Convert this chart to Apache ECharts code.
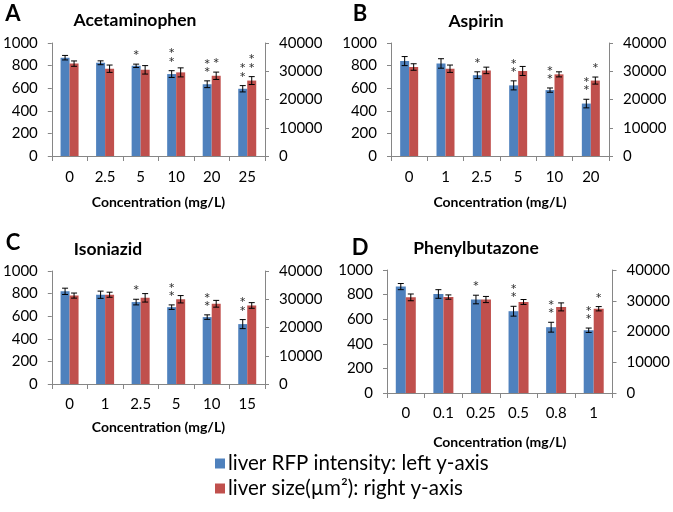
<!DOCTYPE html>
<html>
<head>
<meta charset="utf-8">
<script src="https://cdn.jsdelivr.net/npm/echarts@6/dist/echarts.min.js"></script>
<style>
  html, body { margin: 0; padding: 0; background: #fff; }
  #chart { width: 673px; height: 512px; }
</style>
</head>
<body>
<div id="chart"></div>
<script>
// Panel A - Acetaminophen
const catsA = ['0', '2.5', '5', '10', '20', '25'];
const rfpA = [870, 825, 798, 725, 635, 595];
const rfpErrA = [20, 17, 15, 30, 30, 28];
const sizeA = [32700, 30900, 30500, 29600, 28400, 26700];
const sizeErrA = [950, 1300, 1500, 1600, 1300, 1400];
const rfpStarsA = [0, 0, 1, 2, 2, 2];
const sizeStarsA = [0, 0, 0, 0, 1, 2];

// Panel B - Aspirin
const catsB = ['0', '1', '2.5', '5', '10', '20'];
const rfpB = [840, 819, 715, 625, 583, 464];
const rfpErrB = [40, 42, 30, 40, 19, 38];
const sizeB = [31500, 30900, 30300, 30100, 28900, 26700];
const sizeErrB = [1150, 1300, 1150, 1600, 900, 1250];
const rfpStarsB = [0, 0, 1, 2, 2, 2];
const sizeStarsB = [0, 0, 0, 0, 0, 1];

// Panel C - Isoniazid
const catsC = ['0', '1', '2.5', '5', '10', '15'];
const rfpC = [820, 790, 725, 680, 592, 530];
const rfpErrC = [28, 32, 25, 20, 20, 40];
const sizeC = [31300, 31600, 30500, 30000, 28400, 27800];
const sizeErrC = [900, 900, 1500, 1300, 1200, 1000];
const rfpStarsC = [0, 0, 1, 2, 2, 2];
const sizeStarsC = [0, 0, 0, 0, 0, 0];

// Panel D - Phenylbutazone
const catsD = ['0', '0.1', '0.25', '0.5', '0.8', '1'];
const rfpD = [865, 805, 760, 665, 535, 510];
const rfpErrD = [25, 35, 35, 40, 40, 18];
const sizeD = [31100, 31200, 30400, 29600, 28000, 27400];
const sizeErrD = [1100, 700, 1000, 800, 1300, 700];
const rfpStarsD = [0, 0, 1, 2, 2, 2];
const sizeStarsD = [0, 0, 0, 0, 0, 1];

const rfpTicks = { min: 0, max: 1000, interval: 200 };
const sizeTicks = { min: 0, max: 40000, interval: 10000 };

const RFP_NAME = 'liver RFP intensity: left y-axis';
const SIZE_NAME = 'liver size(\u00b5m\u00b2): right y-axis';
const BLUE = '#4F81BD';
const RED = '#C0504D';
const AXIS = '#868686';
const FONT = 'Lato, "Open Sans", sans-serif';

const panels = [
  { letter: 'A', title: 'Acetaminophen', cats: catsA, rfp: rfpA, rfpErr: rfpErrA, size: sizeA, sizeErr: sizeErrA, rs: rfpStarsA, ss: sizeStarsA,
    grid: { left: 48, top: 43, width: 217, height: 113 }, bw: 9, labelGap: 14, nameGap: 39,
    letterPos: [13, 14], titlePos: [135, 20] },
  { letter: 'B', title: 'Aspirin', cats: catsB, rfp: rfpB, rfpErr: rfpErrB, size: sizeB, sizeErr: sizeErrB, rs: rfpStarsB, ss: sizeStarsB,
    grid: { left: 391, top: 43, width: 218, height: 113 }, bw: 9, labelGap: 14, nameGap: 39,
    letterPos: [360, 14], titlePos: [476, 21] },
  { letter: 'C', title: 'Isoniazid', cats: catsC, rfp: rfpC, rfpErr: rfpErrC, size: sizeC, sizeErr: sizeErrC, rs: rfpStarsC, ss: sizeStarsC,
    grid: { left: 48, top: 271, width: 217, height: 113 }, bw: 9, labelGap: 13, nameGap: 36,
    letterPos: [13, 243], titlePos: [108, 249] },
  { letter: 'D', title: 'Phenylbutazone', cats: catsD, rfp: rfpD, rfpErr: rfpErrD, size: sizeD, sizeErr: sizeErrD, rs: rfpStarsD, ss: sizeStarsD,
    grid: { left: 387, top: 270, width: 230, height: 123 }, bw: 10, labelGap: 13, nameGap: 42,
    letterPos: [360, 248], titlePos: [476, 248] }
];

// error bar + significance asterisks, drawn at the bar's x position
function errorItem(offset) {
  return function (params, api) {
    const i = api.value(0), v = api.value(1), e = api.value(2), n = api.value(3);
    const x = api.coord([i, v])[0] + offset;
    const yHi = api.coord([i, v + e])[1];
    const yLo = api.coord([i, v - e])[1];
    const st = { stroke: '#000', lineWidth: 1 };
    const kids = [
      { type: 'line', shape: { x1: x, y1: yHi, x2: x, y2: yLo }, style: st },
      { type: 'line', shape: { x1: x - 3, y1: yHi, x2: x + 3, y2: yHi }, style: st },
      { type: 'line', shape: { x1: x - 3, y1: yLo, x2: x + 3, y2: yLo }, style: st }
    ];
    for (let k = 0; k < n; k++) {
      kids.push({
        type: 'text',
        style: { text: '*', x: x, y: yHi - 8 - k * 8.5, align: 'center', verticalAlign: 'middle',
          font: '16px ' + FONT, fill: '#333' }
      });
    }
    return { type: 'group', children: kids };
  };
}

const plain = function (v) { return String(v); };
const grid = [], xAxis = [], yAxis = [], series = [], graphic = [];

panels.forEach(function (p, g) {
  grid.push(Object.assign({ containLabel: false }, p.grid));
  xAxis.push({
    type: 'category', gridIndex: g, data: p.cats,
    name: 'Concentration (mg/L)', nameLocation: 'middle', nameGap: p.nameGap,
    nameTextStyle: { fontFamily: FONT, fontWeight: 'bold', fontSize: 14, color: '#000' },
    axisLine: { lineStyle: { color: AXIS } },
    axisTick: { show: true, length: 5, lineStyle: { color: AXIS } },
    axisLabel: { fontFamily: FONT, fontSize: 15, color: '#000', margin: p.labelGap, interval: 0 }
  });
  yAxis.push(Object.assign({
    type: 'value', gridIndex: g, position: 'left',
    axisLine: { show: true, lineStyle: { color: AXIS } },
    axisTick: { show: true, length: 4, lineStyle: { color: AXIS } },
    axisLabel: { fontFamily: FONT, fontSize: 15, color: '#000', margin: 14, formatter: plain },
    splitLine: { show: false }
  }, rfpTicks));
  yAxis.push(Object.assign({
    type: 'value', gridIndex: g, position: 'right',
    axisLine: { show: true, lineStyle: { color: AXIS } },
    axisTick: { show: true, length: 4, lineStyle: { color: AXIS } },
    axisLabel: { fontFamily: FONT, fontSize: 15, color: '#000', margin: 14, formatter: plain },
    splitLine: { show: false }
  }, sizeTicks));

  series.push({
    name: RFP_NAME, type: 'bar', xAxisIndex: g, yAxisIndex: 2 * g,
    data: p.rfp, barWidth: p.bw, barGap: '0%', itemStyle: { color: BLUE }
  });
  series.push({
    name: SIZE_NAME, type: 'bar', xAxisIndex: g, yAxisIndex: 2 * g + 1,
    data: p.size, barWidth: p.bw, barGap: '0%', itemStyle: { color: RED }
  });
  series.push({
    type: 'custom', xAxisIndex: g, yAxisIndex: 2 * g, z: 5, silent: true,
    renderItem: errorItem(-p.bw / 2),
    data: p.rfp.map(function (v, i) { return [i, v, p.rfpErr[i], p.rs[i]]; })
  });
  series.push({
    type: 'custom', xAxisIndex: g, yAxisIndex: 2 * g + 1, z: 5, silent: true,
    renderItem: errorItem(p.bw / 2),
    data: p.size.map(function (v, i) { return [i, v, p.sizeErr[i], p.ss[i]]; })
  });

  graphic.push({
    type: 'text', x: p.letterPos[0], y: p.letterPos[1],
    style: { text: p.letter, font: 'bold 22px ' + FONT, fill: '#000', align: 'center', verticalAlign: 'middle' }
  });
  graphic.push({
    type: 'text', x: p.titlePos[0], y: p.titlePos[1],
    style: { text: p.title, font: 'bold 17.5px ' + FONT, fill: '#000', align: 'center', verticalAlign: 'middle' }
  });
});

const chart = echarts.init(document.getElementById('chart'), null, { renderer: 'canvas' });
chart.setOption({
  animation: false,
  backgroundColor: '#fff',
  grid: grid,
  xAxis: xAxis,
  yAxis: yAxis,
  series: series,
  graphic: graphic,
  legend: {
    data: [RFP_NAME, SIZE_NAME],
    orient: 'vertical', left: 215, top: 453, padding: 0,
    itemWidth: 10, itemHeight: 10, itemGap: 4, icon: 'rect',
    selectedMode: false,
    textStyle: { fontFamily: FONT, fontSize: 20.5, color: '#000', padding: [0, 0, 0, -2] }
  }
});
</script>
</body>
</html>
